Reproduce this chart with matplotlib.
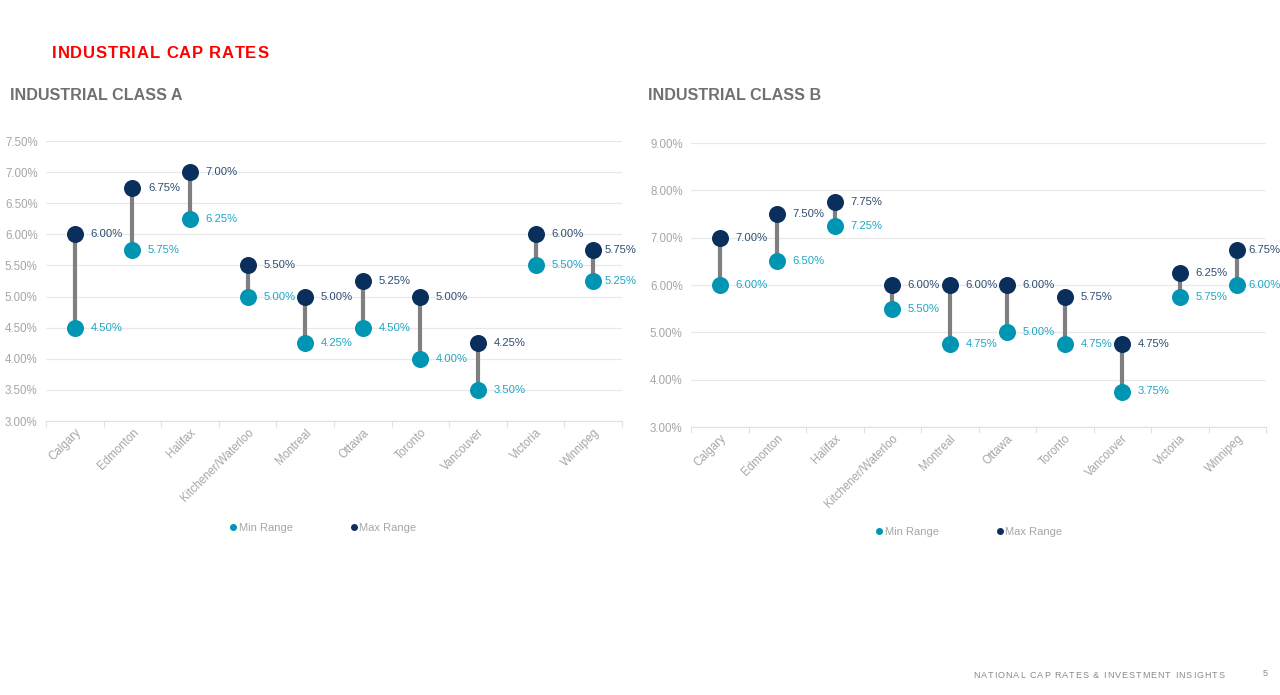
import matplotlib.pyplot as plt
import numpy as np
from matplotlib.lines import Line2D

plt.rcParams['font.family'] = ['Liberation Sans', 'DejaVu Sans']

cities = ['Calgary', 'Edmonton', 'Halifax', 'Kitchener/Waterloo', 'Montreal',
          'Ottawa', 'Toronto', 'Vancouver', 'Victoria', 'Winnipeg']

# class A cap rates (%)
a_min = [4.50, 5.75, 6.25, 5.00, 4.25, 4.50, 4.00, 3.50, 5.50, 5.25]
a_max = [6.00, 6.75, 7.00, 5.50, 5.00, 5.25, 5.00, 4.25, 6.00, 5.75]

# class B cap rates (%)
b_min = [6.00, 6.50, 7.25, 5.50, 4.75, 5.00, 4.75, 3.75, 5.75, 6.00]
b_max = [7.00, 7.50, 7.75, 6.00, 6.00, 6.00, 5.75, 4.75, 6.25, 6.75]

min_col = '#0095b3'
max_col = '#0b2f5c'
min_txt = '#1ea6c4'
max_txt = '#2d4d72'
grey = '#a6a6a6'
W, H = 1280, 695


def dumbbell(ax, lo, hi, ylim, step):
    x = np.arange(len(cities))
    ax.vlines(x, lo, hi, color='#7f7f7f', lw=3, zorder=1)
    ax.scatter(x, lo, s=150, color=min_col, zorder=3, linewidths=0)
    ax.scatter(x, hi, s=150, color=max_col, zorder=3, linewidths=0)
    for i in range(len(x)):
        # last labels sit closer to the marker so they fit on the page
        off = 0.19 if i == len(x) - 1 else 0.27
        ax.text(x[i] + off, lo[i], '%.2f%%' % lo[i], color=min_txt,
                fontsize=8.1, va='center', ha='left')
        ax.text(x[i] + off, hi[i], '%.2f%%' % hi[i], color=max_txt,
                fontsize=8.1, va='center', ha='left')

    ax.set_xlim(-0.5, len(cities) - 0.5)
    ax.set_ylim(ylim)
    ticks = np.arange(ylim[0], ylim[1] + 0.001, step)
    ax.set_yticks(ticks)
    ax.set_yticklabels(['%.2f%%' % t for t in ticks])
    ax.grid(axis='y', color='#e8e8e8', lw=0.9)
    ax.set_axisbelow(True)
    for s in ['top', 'right', 'left']:
        ax.spines[s].set_visible(False)
    ax.spines['bottom'].set_color('#e0e0e0')
    ax.tick_params(axis='y', length=0, labelsize=8.3, labelcolor=grey, pad=6)

    # ticks between categories, labels at the centers
    ax.set_xticks(np.arange(len(cities) + 1) - 0.5, minor=False)
    ax.set_xticklabels([])
    ax.tick_params(axis='x', which='major', length=4, color='#e0e0e0')
    ax.set_xticks(x, minor=True)
    ax.set_xticklabels(cities, minor=True, rotation=45, ha='right',
                       rotation_mode='anchor', fontsize=8.3, color=grey)
    ax.tick_params(axis='x', which='minor', length=0, pad=4)

    handles = [Line2D([], [], marker='o', ls='', color=min_col, markersize=4),
               Line2D([], [], marker='o', ls='', color=max_col, markersize=4)]
    return handles


def spaced_text(fig, x0, y, s, gap, **kw):
    # draw letter by letter to get the tracking of the original
    r = fig.canvas.get_renderer()
    x = x0
    for ch in s:
        t = fig.text(x / W, 1 - y / H, ch, va='center', ha='left', **kw)
        if ch == ' ':
            t2 = fig.text(0, 0, 'a a', **kw)
            t3 = fig.text(0, 0, 'aa', **kw)
            w = t2.get_window_extent(r).width - t3.get_window_extent(r).width
            t2.remove()
            t3.remove()
        else:
            w = t.get_window_extent(r).width
        x += w + gap


fig = plt.figure(figsize=(12.8, 6.95), dpi=100)

ax1 = fig.add_axes([46 / W, 1 - 421 / H, 576 / W, 280 / H])
h = dumbbell(ax1, a_min, a_max, (3.0, 7.5), 0.5)
fig.legend(h, ['Min Range', 'Max Range'], loc='center', frameon=False,
           bbox_to_anchor=(322 / W, 1 - 528 / H), ncol=2,
           columnspacing=5.0, handletextpad=0.0, fontsize=8,
           labelcolor=grey, handlelength=1.0)

ax2 = fig.add_axes([691 / W, 1 - 427 / H, 575 / W, 284 / H])
h = dumbbell(ax2, b_min, b_max, (3.0, 9.0), 1.0)
fig.legend(h, ['Min Range', 'Max Range'], loc='center', frameon=False,
           bbox_to_anchor=(968 / W, 1 - 532 / H), ncol=2,
           columnspacing=5.0, handletextpad=0.0, fontsize=8,
           labelcolor=grey, handlelength=1.0)

spaced_text(fig, 52, 54, 'INDUSTRIAL CAP RATES', 0.8, color='#ff0000',
            fontsize=12, fontweight='bold')
fig.text(10 / W, 1 - 95 / H, 'INDUSTRIAL CLASS A', color='#707070',
         fontsize=11.6, fontweight='bold', va='center', ha='left')
fig.text(648 / W, 1 - 95 / H, 'INDUSTRIAL CLASS B', color='#707070',
         fontsize=11.6, fontweight='bold', va='center', ha='left')
spaced_text(fig, 973, 675, 'NATIONAL CAP RATES & INVESTMENT INSIGHTS', 1.0,
            color='#888888', fontsize=6.5)
fig.text(1265 / W, 1 - 674 / H, '5', color='#888888', fontsize=6.5,
         va='center', ha='center')

fig.savefig('out.png', dpi=100)
